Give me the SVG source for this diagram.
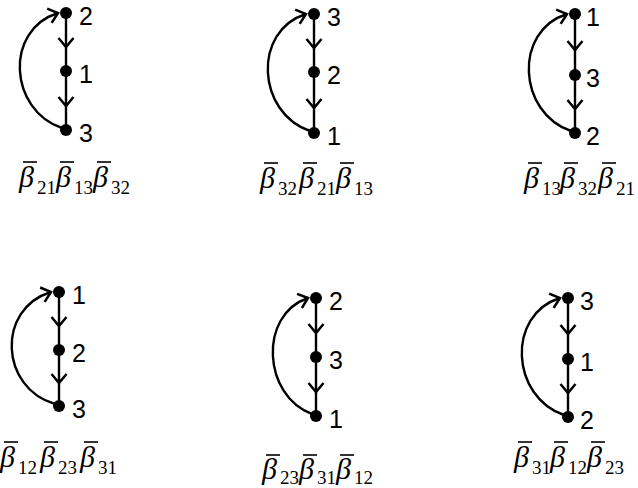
<svg xmlns="http://www.w3.org/2000/svg" width="638" height="488" viewBox="0 0 638 488">
<style>
.dot{fill:#000}
.num{font-family:"Liberation Sans",Arial,sans-serif;font-size:25px;fill:#000}
.ln{stroke:#000;stroke-width:2.4;fill:none}
.b{font-family:"Liberation Serif","Times New Roman",serif;font-style:italic;font-size:30px;fill:#000}
.s{font-family:"Liberation Serif","Times New Roman",serif;font-size:19px;fill:#000}
.bar{stroke:#000;stroke-width:1.6}
</style>
<defs>
<marker id="chev" markerUnits="userSpaceOnUse" viewBox="-11 -10 13 20" refX="0" refY="0" markerWidth="13" markerHeight="20" orient="auto">
<path d="M-9,-7.5 L0,0 L-9,7.5" fill="none" stroke="#000" stroke-width="2.5"/>
</marker>
</defs>
<rect width="638" height="488" fill="#fff"/>
<g id="connectors">
<!-- P1 -->
<path class="ln" d="M66,13 L66,47 L66,71" marker-mid="url(#chev)"/>
<path class="ln" d="M66,71 L66,106 L66,130" marker-mid="url(#chev)"/>
<path class="ln" d="M62,128 C9,110 4,30 58,13" marker-end="url(#chev)"/>
<!-- P2 -->
<path class="ln" d="M314,14 L314,48 L314,72" marker-mid="url(#chev)"/>
<path class="ln" d="M314,72 L314,108 L314,133" marker-mid="url(#chev)"/>
<path class="ln" d="M310,131 C257,113 252,31 306,14" marker-end="url(#chev)"/>
<!-- P3 -->
<path class="ln" d="M575,14 L575,50 L575,75" marker-mid="url(#chev)"/>
<path class="ln" d="M575,75 L575,109 L575,133" marker-mid="url(#chev)"/>
<path class="ln" d="M571,131 C518,113 513,31 567,14" marker-end="url(#chev)"/>
<!-- P4 -->
<path class="ln" d="M59,292 L59,326 L59,350" marker-mid="url(#chev)"/>
<path class="ln" d="M59,350 L59,383 L59,406" marker-mid="url(#chev)"/>
<path class="ln" d="M55,404 C0,388 -4,309 51,292" marker-end="url(#chev)"/>
<!-- P5 -->
<path class="ln" d="M316,298 L316,333 L316,357" marker-mid="url(#chev)"/>
<path class="ln" d="M316,357 L316,392 L316,416" marker-mid="url(#chev)"/>
<path class="ln" d="M312,414 C263,396 258,315 308,298" marker-end="url(#chev)"/>
<!-- P6 -->
<path class="ln" d="M568,298 L568,334 L568,359" marker-mid="url(#chev)"/>
<path class="ln" d="M568,359 L568,393 L568,417" marker-mid="url(#chev)"/>
<path class="ln" d="M564,415 C511,397 506,315 560,298" marker-end="url(#chev)"/>
</g>
<!-- P1 nodes -->
<g id="p1-n2"><circle class="dot" cx="66" cy="13" r="6"/><text class="num" x="79" y="25">2</text></g>
<g id="p1-n1"><circle class="dot" cx="66" cy="71" r="6"/><text class="num" x="79" y="83">1</text></g>
<g id="p1-n3"><circle class="dot" cx="66" cy="130" r="6"/><text class="num" x="79" y="142">3</text></g>
<!-- P2 nodes -->
<g id="p2-n3"><circle class="dot" cx="314" cy="14" r="6"/><text class="num" x="327" y="26">3</text></g>
<g id="p2-n2"><circle class="dot" cx="314" cy="72" r="6"/><text class="num" x="327" y="84">2</text></g>
<g id="p2-n1"><circle class="dot" cx="314" cy="133" r="6"/><text class="num" x="327" y="145">1</text></g>
<!-- P3 nodes -->
<g id="p3-n1"><circle class="dot" cx="575" cy="14" r="6"/><text class="num" x="586" y="26">1</text></g>
<g id="p3-n3"><circle class="dot" cx="575" cy="75" r="6"/><text class="num" x="586" y="87">3</text></g>
<g id="p3-n2"><circle class="dot" cx="575" cy="133" r="6"/><text class="num" x="586" y="145">2</text></g>
<!-- P4 nodes -->
<g id="p4-n1"><circle class="dot" cx="59" cy="292" r="6"/><text class="num" x="72" y="304">1</text></g>
<g id="p4-n2"><circle class="dot" cx="59" cy="350" r="6"/><text class="num" x="72" y="362">2</text></g>
<g id="p4-n3"><circle class="dot" cx="59" cy="406" r="6"/><text class="num" x="72" y="418">3</text></g>
<!-- P5 nodes -->
<g id="p5-n2"><circle class="dot" cx="316" cy="298" r="6"/><text class="num" x="329" y="310">2</text></g>
<g id="p5-n3"><circle class="dot" cx="316" cy="357" r="6"/><text class="num" x="329" y="369">3</text></g>
<g id="p5-n1"><circle class="dot" cx="316" cy="416" r="6"/><text class="num" x="329" y="428">1</text></g>
<!-- P6 nodes -->
<g id="p6-n3"><circle class="dot" cx="568" cy="298" r="6"/><text class="num" x="580" y="310">3</text></g>
<g id="p6-n1"><circle class="dot" cx="568" cy="359" r="6"/><text class="num" x="580" y="371">1</text></g>
<g id="p6-n2"><circle class="dot" cx="568" cy="417" r="6"/><text class="num" x="580" y="429">2</text></g>
<!-- formulas -->
<g id="f1">
<text class="b" x="19" y="187">β</text><text class="s" x="37" y="194">21</text><line class="bar" x1="23" y1="162" x2="37" y2="162"/>
<text class="b" x="56" y="187">β</text><text class="s" x="74" y="194">13</text><line class="bar" x1="60" y1="162" x2="74" y2="162"/>
<text class="b" x="93" y="187">β</text><text class="s" x="111" y="194">32</text><line class="bar" x1="97" y1="162" x2="111" y2="162"/>
</g>
<g id="f2">
<text class="b" x="260" y="188">β</text><text class="s" x="278" y="195">32</text><line class="bar" x1="264" y1="163" x2="278" y2="163"/>
<text class="b" x="299" y="188">β</text><text class="s" x="317" y="195">21</text><line class="bar" x1="303" y1="163" x2="317" y2="163"/>
<text class="b" x="336" y="188">β</text><text class="s" x="354" y="195">13</text><line class="bar" x1="340" y1="163" x2="354" y2="163"/>
</g>
<g id="f3">
<text class="b" x="524" y="188">β</text><text class="s" x="542" y="195">13</text><line class="bar" x1="528" y1="163" x2="542" y2="163"/>
<text class="b" x="560" y="188">β</text><text class="s" x="578" y="195">32</text><line class="bar" x1="564" y1="163" x2="578" y2="163"/>
<text class="b" x="598" y="188">β</text><text class="s" x="616" y="195">21</text><line class="bar" x1="602" y1="163" x2="616" y2="163"/>
</g>
<g id="f4">
<text class="b" x="0" y="467">β</text><text class="s" x="18" y="474">12</text><line class="bar" x1="4" y1="442" x2="18" y2="442"/>
<text class="b" x="40" y="467">β</text><text class="s" x="58" y="474">23</text><line class="bar" x1="44" y1="442" x2="58" y2="442"/>
<text class="b" x="80" y="467">β</text><text class="s" x="98" y="474">31</text><line class="bar" x1="84" y1="442" x2="98" y2="442"/>
</g>
<g id="f5">
<text class="b" x="262" y="479">β</text><text class="s" x="280" y="484">23</text><line class="bar" x1="266" y1="455" x2="280" y2="455"/>
<text class="b" x="299" y="479">β</text><text class="s" x="317" y="484">31</text><line class="bar" x1="303" y1="455" x2="317" y2="455"/>
<text class="b" x="336" y="479">β</text><text class="s" x="354" y="484">12</text><line class="bar" x1="340" y1="455" x2="354" y2="455"/>
</g>
<g id="f6">
<text class="b" x="514" y="467">β</text><text class="s" x="532" y="474">31</text><line class="bar" x1="518" y1="442" x2="532" y2="442"/>
<text class="b" x="550" y="467">β</text><text class="s" x="568" y="474">12</text><line class="bar" x1="554" y1="442" x2="568" y2="442"/>
<text class="b" x="587" y="467">β</text><text class="s" x="605" y="474">23</text><line class="bar" x1="591" y1="442" x2="605" y2="442"/>
</g>
</svg>
